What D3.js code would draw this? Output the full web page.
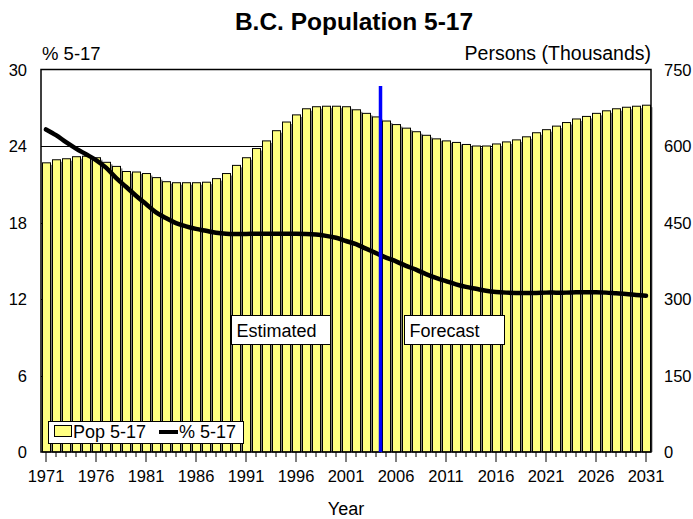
<!DOCTYPE html>
<html>
<head>
<meta charset="utf-8">
<script src="https://cdn.jsdelivr.net/npm/d3@7/dist/d3.min.js"></script>
<style>
  html, body { margin: 0; padding: 0; background: #fff; }
  svg { display: block; font-family: "Liberation Sans", Arial, sans-serif; }
</style>
</head>
<body>
<svg id="chart" width="693" height="519"></svg>
<script>
// ---- data ----
const years = d3.range(1971, 2032);
const popValues = [
  567, 573, 575, 579, 580, 577, 568, 560, 550, 549,
  546, 538, 530, 528, 528, 528, 529, 536, 546, 562,
  577, 595, 610, 630, 647, 661, 673, 677, 678, 678,
  677, 671, 664, 657, 649, 642, 635, 628, 621, 614,
  610, 607, 603, 600, 600, 604, 608, 612, 618, 626,
  632, 639, 646, 653, 658, 664, 669, 673, 676, 678,
  680
];
const pctValues = [
  25.3, 24.85, 24.3, 23.8, 23.35, 22.9, 22.3, 21.5, 20.8, 20.1,
  19.45, 18.8, 18.35, 17.95, 17.7, 17.5, 17.35, 17.2, 17.12, 17.1,
  17.1, 17.12, 17.12, 17.12, 17.12, 17.12, 17.1, 17.05, 16.95, 16.8,
  16.55, 16.3, 15.95, 15.6, 15.25, 14.95, 14.6, 14.3, 13.95, 13.65,
  13.4, 13.15, 12.95, 12.8, 12.65, 12.55, 12.5, 12.48, 12.48, 12.48,
  12.5, 12.5, 12.5, 12.52, 12.52, 12.52, 12.5, 12.45, 12.4, 12.32,
  12.25
];
const leftTicks = [0, 6, 12, 18, 24, 30];
const rightTicks = [0, 150, 300, 450, 600, 750];
const xLabelYears = [1971, 1976, 1981, 1986, 1991, 1996, 2001, 2006, 2011, 2016, 2021, 2026, 2031];
const forecastStart = 2005;
const seriesNames = ["Pop 5-17", "% 5-17"];

// ---- layout ----
const svg = d3.select("#chart");
const L = 41, R = 651, T = 69.5, B = 452;

const x = d3.scaleBand().domain(years).range([L, R]).padding(0);
const yL = d3.scaleLinear().domain([0, 30]).range([B, T]);
const yR = d3.scaleLinear().domain([0, 750]).range([B, T]);

// gridlines
svg.append("g").selectAll("line")
  .data(leftTicks.filter(t => t > 0 && t < 30))
  .join("line")
  .attr("x1", L).attr("x2", R)
  .attr("y1", d => Math.round(yL(d)) + 0.5).attr("y2", d => Math.round(yL(d)) + 0.5)
  .attr("stroke", "#000").attr("stroke-width", 1);

// bars (shadow + bar)
const bw = 8;
const bars = svg.append("g");
bars.selectAll("rect.shadow")
  .data(years.map((yr, i) => ({ yr, v: popValues[i] })))
  .join("rect").attr("class", "shadow")
  .attr("x", d => x(d.yr) + 3.5)
  .attr("y", d => yR(d.v) + 2)
  .attr("width", bw)
  .attr("height", d => B - yR(d.v) - 2)
  .attr("fill", "#808080");
bars.selectAll("rect.bar")
  .data(years.map((yr, i) => ({ yr, v: popValues[i] })))
  .join("rect").attr("class", "bar")
  .attr("x", d => x(d.yr) + 1.5)
  .attr("y", d => yR(d.v))
  .attr("width", bw)
  .attr("height", d => B - yR(d.v))
  .attr("fill", "#FFFF80")
  .attr("stroke", "#000").attr("stroke-width", 1);

// plot border
svg.append("rect")
  .attr("x", L).attr("y", T).attr("width", R - L).attr("height", B - T)
  .attr("fill", "none").attr("stroke", "#000").attr("stroke-width", 1.5);

// line
const line = d3.line()
  .x((d, i) => x(years[i]) + x.bandwidth() / 2)
  .y(d => yL(d))
  .curve(d3.curveCatmullRom);
svg.append("path")
  .datum(pctValues)
  .attr("d", line)
  .attr("fill", "none").attr("stroke", "#000").attr("stroke-width", 4.5)
  .attr("stroke-linecap", "round").attr("stroke-linejoin", "round");

// forecast divider
const divX = x(forecastStart) - 0.5;
svg.append("line")
  .attr("x1", divX).attr("x2", divX)
  .attr("y1", yL(28.7)).attr("y2", B)
  .attr("stroke", "#0000FF").attr("stroke-width", 3.5);

// x axis ticks
const xt = svg.append("g");
xt.selectAll("line")
  .data(years)
  .join("line")
  .attr("x1", d => x(d) + x.bandwidth() / 2).attr("x2", d => x(d) + x.bandwidth() / 2)
  .attr("y1", B).attr("y2", d => B + (xLabelYears.includes(d) ? 10 : 5))
  .attr("stroke", "#000").attr("stroke-width", 1);
xt.selectAll("text")
  .data(xLabelYears)
  .join("text")
  .attr("x", d => x(d) + x.bandwidth() / 2)
  .attr("y", 482)
  .attr("text-anchor", "middle")
  .attr("font-size", 16.5)
  .text(d => d);

// left axis labels
svg.append("g").selectAll("text")
  .data(leftTicks).join("text")
  .attr("x", 27).attr("y", d => yL(d) + 6)
  .attr("text-anchor", "end").attr("font-size", 16.5)
  .text(d => d);
// right axis labels
svg.append("g").selectAll("text")
  .data(rightTicks).join("text")
  .attr("x", 664).attr("y", d => yR(d) + 6)
  .attr("text-anchor", "start").attr("font-size", 16.5)
  .text(d => d);

// titles
svg.append("text").attr("x", 354).attr("y", 30)
  .attr("text-anchor", "middle").attr("font-size", 24.5).attr("font-weight", "bold")
  .text("B.C. Population 5-17");
svg.append("text").attr("x", 42).attr("y", 60).attr("font-size", 18.5).text("% 5-17");
svg.append("text").attr("x", 651).attr("y", 60).attr("text-anchor", "end")
  .attr("font-size", 19.5).text("Persons (Thousands)");
svg.append("text").attr("x", 346).attr("y", 515).attr("text-anchor", "middle")
  .attr("font-size", 18).text("Year");

// annotation boxes
function noteBox(x0, x1, label) {
  const g = svg.append("g");
  g.append("rect").attr("x", x0).attr("y", 315.5).attr("width", x1 - x0).attr("height", 29)
    .attr("fill", "#fff").attr("stroke", "#000").attr("stroke-width", 1);
  g.append("text").attr("x", x0 + 5).attr("y", 337).attr("font-size", 18).text(label);
}
noteBox(x(1990) + 0.5, x(1999) + 9.5, "Estimated");
noteBox(x(2007) + 3.5, x(2017) + 3.5, "Forecast");

// legend
const lg = svg.append("g");
lg.append("rect").attr("x", 48.5).attr("y", 421.5).attr("width", 195).attr("height", 22)
  .attr("fill", "#fff").attr("stroke", "#000").attr("stroke-width", 1);
lg.append("rect").attr("x", 54.5).attr("y", 425.5).attr("width", 17).attr("height", 11)
  .attr("fill", "#FFFF80").attr("stroke", "#000").attr("stroke-width", 1);
lg.append("text").attr("x", 73).attr("y", 438).attr("font-size", 18).text(seriesNames[0]);
lg.append("line").attr("x1", 159).attr("x2", 178).attr("y1", 432).attr("y2", 432)
  .attr("stroke", "#000").attr("stroke-width", 4);
lg.append("text").attr("x", 179).attr("y", 438).attr("font-size", 18).text(seriesNames[1]);
</script>
</body>
</html>
